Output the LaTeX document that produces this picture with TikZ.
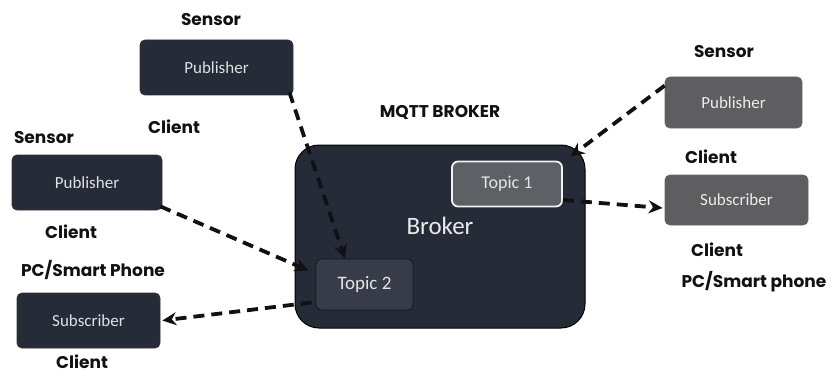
\documentclass[tikz,border=0pt]{standalone}
\usepackage{fontspec}
\setmainfont{Carlito}
\newfontfamily\labfont{Poppins}
\usetikzlibrary{arrows.meta}
\definecolor{boxdark}{HTML}{262B38}
\definecolor{boxgray}{HTML}{5E5E60}
\definecolor{topicgray}{HTML}{5E6066}
\definecolor{ink}{HTML}{111111}
\tikzset{
  darkbox/.style={draw=black!80, line width=0.8pt, fill=boxdark, rounded corners=5pt, text=white!88!black, font=\fontsize{17}{19}\selectfont, inner sep=0pt},
  graybox/.style={draw=black!60, line width=0.8pt, fill=boxgray, rounded corners=5pt, text=white!92!black, font=\fontsize{17}{19}\selectfont, inner sep=0pt},
  lab/.style={text=ink, font=\labfont\bfseries\fontsize{17}{19}\selectfont, inner sep=0pt},
  conn/.style={draw=ink, line width=3.8pt, dash pattern=on 11pt off 7pt, -{Stealth[length=14pt,width=13pt]}}
}
\begin{document}
\begin{tikzpicture}[x=1pt,y=-1pt]
\useasboundingbox (0,0) rectangle (834,377);
% broker
\node[draw=black, line width=1pt, fill=boxdark, rounded corners=24pt, minimum width=290pt, minimum height=183pt, inner sep=0pt] (broker) at (440,236.5) {};
\node[text=white!92!black, font=\fontsize{25}{27}\selectfont, inner sep=0pt] (brokertxt) at (440,226) {Broker};
\node[draw=white!95!black, line width=1.8pt, fill=topicgray, rounded corners=6pt, minimum width=110pt, minimum height=45pt, text=white!90!black, font=\fontsize{18}{20}\selectfont, inner sep=0pt] (topic1) at (507,184) {Topic 1};
\node[draw=black!50!boxdark, line width=0.8pt, fill=boxdark!92!white, rounded corners=5pt, minimum width=97pt, minimum height=51pt, text=white!90!black, font=\fontsize{19}{21}\selectfont, inner sep=0pt] (topic2) at (364.5,284.5) {Topic 2};
% clients
\node[darkbox, minimum width=153pt, minimum height=55pt] (pub1) at (216.5,67.5) {Publisher};
\node[darkbox, minimum width=150pt, minimum height=55pt] (pub2) at (87,182.5) {Publisher};
\node[darkbox, minimum width=143pt, minimum height=55pt] (subl) at (88.5,320.5) {Subscriber};
\node[graybox, minimum width=137pt, minimum height=51pt] (pubr) at (733.5,102.5) {Publisher};
\node[graybox, minimum width=143pt, minimum height=50pt] (subr) at (736.5,200) {Subscriber};
% labels
\node[lab] (l1) at (211,20) {Sensor};
\node[lab] (l2) at (174,127) {Client};
\node[lab] (l3) at (44,138) {Sensor};
\node[lab] (l4) at (71,232) {Client};
\node[lab] (l5) at (93,270) {PC/Smart Phone};
\node[lab] (l6) at (82,362) {Client};
\node[lab] (l7) at (440,112) {MQTT BROKER};
\node[lab] (l8) at (724,52) {Sensor};
\node[lab] (l9) at (711,157) {Client};
\node[lab] (l10) at (717,250) {Client};
\node[lab] (l11) at (754,282) {PC/Smart phone};
% connectors
\draw[conn] ([xshift=-4pt,yshift=3pt]pub1.south east) -- (topic2.127);
\draw[conn] ([xshift=-2pt,yshift=4pt]pub2.south east) -- ([xshift=-7pt,yshift=-12pt]topic2.north west);
\draw[conn] ([xshift=-4pt,yshift=-18pt]topic2.west) -- ([xshift=2pt]subl.east);
\draw[conn] ([yshift=-9pt]pubr.north west) -- ([xshift=-15pt,yshift=-12pt]broker.north east);
\draw[conn] ([yshift=-16pt]topic1.east) -- ([xshift=-2pt,yshift=-8pt]subr.west);
\end{tikzpicture}
\end{document}
